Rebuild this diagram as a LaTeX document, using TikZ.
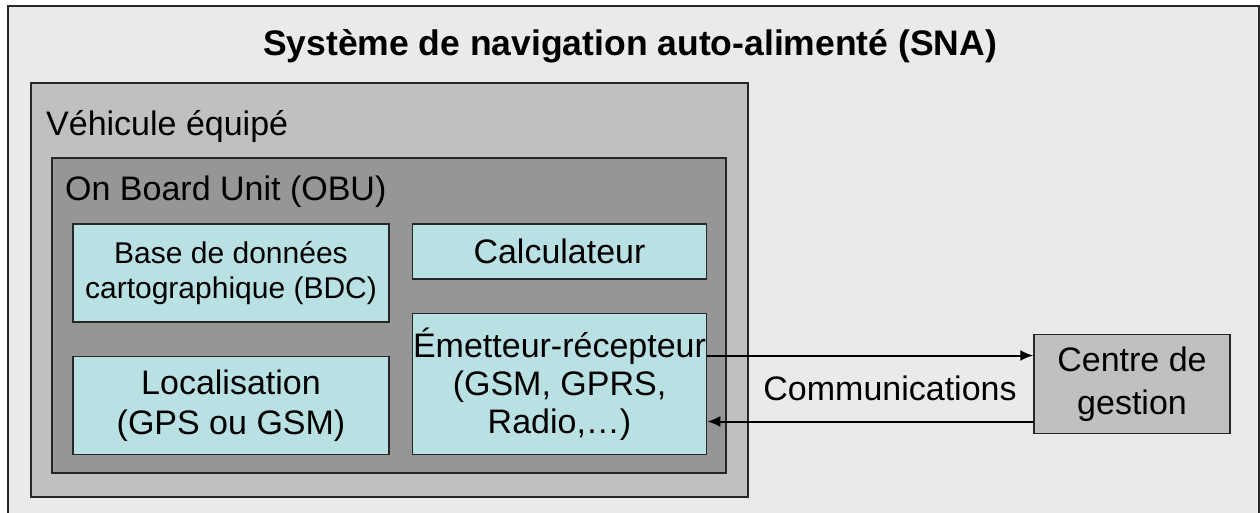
\documentclass[tikz,border=0pt]{standalone}
\usepackage{fontspec}
\setmainfont{Liberation Sans}
\usetikzlibrary{arrows.meta,positioning}

\definecolor{fondsna}{HTML}{EAEAEA}
\definecolor{fondveh}{HTML}{C0C0C0}
\definecolor{fondobu}{HTML}{969696}
\definecolor{fondmod}{HTML}{B9E0E3}
\definecolor{trait}{HTML}{262626}

\begin{document}
\begin{tikzpicture}[x=1pt,y=-1pt,>={Latex[length=13pt,width=11pt]},
  font=\fontsize{34}{39}\selectfont]

  \tikzstyle{cadre}=[rectangle,draw=trait,line width=2pt,inner sep=0pt]
  \tikzstyle{module}=[rectangle,draw=trait,line width=1.5pt,fill=fondmod,
                      inner sep=0pt,align=center,minimum width=316pt,minimum height=98pt]
  \tikzstyle{titre}=[inner sep=0pt,anchor=west]

  \useasboundingbox (0,0) rectangle (1260,513);
  \clip (0,0) rectangle (1260,513);

  % cadres emboites
  \node [cadre,fill=fondsna,minimum width=1251pt,minimum height=524pt] (sna) at (633.5,268) {};
  \node [inner sep=0pt,font=\fontsize{35.5}{40}\selectfont\bfseries] (tsna) at (630,46)
    {Système de navigation auto-alimenté (SNA)};

  \node [cadre,fill=fondveh,minimum width=717pt,minimum height=414pt] (veh) at (389.5,290) {};
  \node [titre] (tveh) at (46,127) {Véhicule équipé};

  \node [cadre,fill=fondobu,minimum width=674pt,minimum height=315pt] (obu) at (389,315.5) {};
  \node [titre] (tobu) at (65,192) {On Board Unit (OBU)};

  % modules de l'OBU
  \node [module,font=\fontsize{30}{35}\selectfont] (bdc) at (231,273)
    {Base de données\\cartographique (BDC)};
  \node [module,font=\fontsize{34}{40}\selectfont] (loc) [below=33pt of bdc]
    {Localisation\\(GPS ou GSM)};
  \node [module,minimum width=294pt,minimum height=55pt] (calc)
    [right=22pt of bdc.north east,anchor=north west] {Calculateur};
  \node [module,minimum width=294pt,minimum height=141pt,font=\fontsize{34}{38}\selectfont] (emet)
    [below=33pt of calc] {Émetteur-récepteur\\(GSM, GPRS,\\Radio,…)};

  \node [cadre,fill=fondveh,line width=1.5pt,align=center,minimum width=196pt,
         minimum height=99pt,font=\fontsize{34}{43}\selectfont] (centre)
    [right=326pt of emet] {Centre de\\gestion};

  % liaisons
  \draw [->,line width=2pt] ([yshift=28.5pt]emet.east) -- ([yshift=28.5pt]centre.west);
  \draw [->,line width=2pt] ([yshift=-37.5pt]centre.west) -- ([yshift=-37.5pt]emet.east);
  \node [inner sep=0pt] (com) at (890,388) {Communications};
\end{tikzpicture}
\end{document}
